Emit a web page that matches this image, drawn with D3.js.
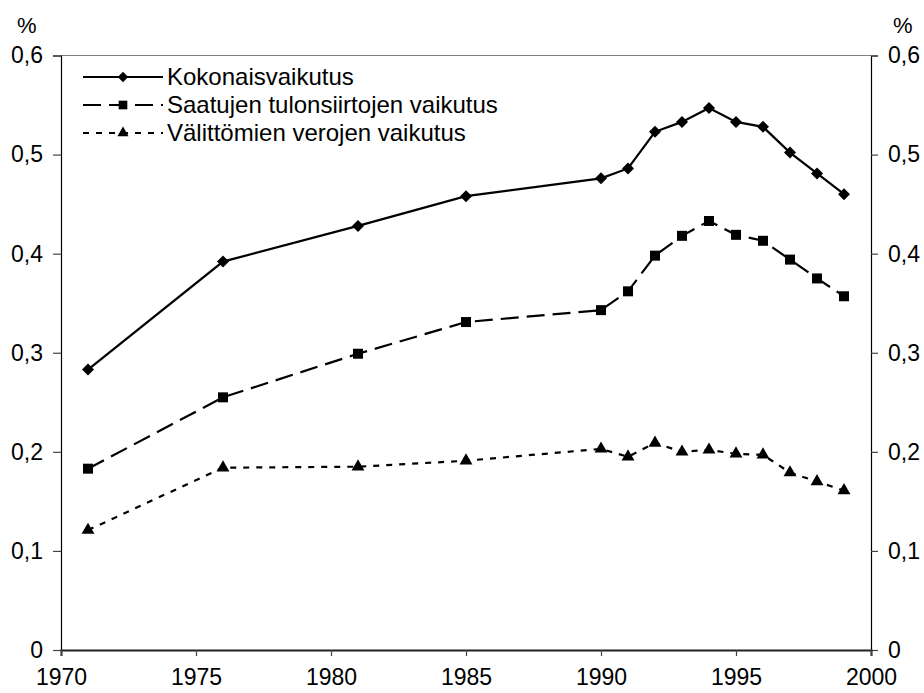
<!DOCTYPE html>
<html>
<head>
    <meta charset="utf-8" />
    <title>Vaikutus</title>
    <style>
        html, body { margin: 0; padding: 0; background: #fff; }
        text { font-family: "Liberation Sans", Arial, sans-serif; fill: #000; }
    </style>
</head>
<body>
    <svg width="924" height="693"></svg>
    <script src="https://cdn.jsdelivr.net/npm/d3@7"></script>
    <script>
        // data
        var years = [1971, 1976, 1981, 1985, 1990, 1991, 1992, 1993, 1994, 1995, 1996, 1997, 1998, 1999];
        var kokonais = [0.283, 0.392, 0.428, 0.458, 0.476, 0.486, 0.523, 0.533, 0.547, 0.533, 0.528, 0.502, 0.481, 0.460];
        var tulonsiirrot = [0.183, 0.255, 0.299, 0.331, 0.343, 0.362, 0.398, 0.418, 0.433, 0.419, 0.413, 0.394, 0.375, 0.357];
        var verot = [0.121, 0.184, 0.185, 0.191, 0.203, 0.195, 0.209, 0.200, 0.202, 0.198, 0.197, 0.179, 0.170, 0.161];
        var seriesNames = ["Kokonaisvaikutus", "Saatujen tulonsiirtojen vaikutus", "Välittömien verojen vaikutus"];
        var xTicks = [1970, 1975, 1980, 1985, 1990, 1995, 2000];
        var yTicks = [0, 0.1, 0.2, 0.3, 0.4, 0.5, 0.6];

        var svg = d3.select("svg"),
            mLeft = 61, mRight = 871, mTop = 55.5, mBottom = 650;

        var x = d3.scaleLinear().domain([1970, 2000]).range([mLeft, mRight]);
        var y = d3.scaleLinear().domain([0, 0.6]).range([mBottom, mTop]);
        var fmt = function (d) { return d === 0 ? "0" : d3.format(".1f")(d).replace(".", ","); };

        // plot area top border
        svg.append("line")
            .attr("x1", mLeft).attr("x2", mRight).attr("y1", mTop).attr("y2", mTop)
            .attr("stroke", "#808080").attr("stroke-width", 1.2);

        var yl = svg.append("g").attr("transform", "translate(" + mLeft + ",0)")
            .call(d3.axisLeft(y).tickValues(yTicks).tickFormat(fmt).tickSize(8).tickPadding(10));
        var yr = svg.append("g").attr("transform", "translate(" + mRight + ",0)")
            .call(d3.axisRight(y).tickValues(yTicks).tickFormat(fmt).tickSize(7).tickPadding(10));
        var xa = svg.append("g").attr("transform", "translate(0," + mBottom + ")")
            .call(d3.axisBottom(x).tickValues(xTicks).tickFormat(d3.format("d")).tickSize(6).tickPadding(13));

        [yl, yr, xa].forEach(function (g) {
            g.select(".domain").attr("stroke", "#000").attr("stroke-width", 1.2);
            g.selectAll(".tick line").attr("stroke", "#444").attr("stroke-width", 1.2);
            g.selectAll("text").style("font-size", "23px").attr("fill", "#000")
                .style("font-family", "'Liberation Sans', Arial, sans-serif");
        });
        xa.select(".domain").attr("stroke", "#222").attr("stroke-width", 2);

        svg.append("text").attr("x", 17).attr("y", 33).style("font-size", "22px").text("%");
        svg.append("text").attr("x", 893).attr("y", 33).style("font-size", "22px").text("%");

        var data = [kokonais, tulonsiirrot, verot];
        var dashes = [null, "18,8", "6,7"];
        var symbols = [d3.symbolSquare, d3.symbolSquare, d3.symbolTriangle];
        var rotate = [45, 0, 0];
        var sizes = [72, 100, 72];

        var line = d3.line()
            .x(function (d, i) { return x(years[i]); })
            .y(function (d) { return y(d); });

        data.forEach(function (vals, s) {
            svg.append("path")
                .datum(vals)
                .attr("d", line)
                .attr("fill", "none")
                .attr("stroke", "#000")
                .attr("stroke-width", 2.2)
                .attr("stroke-dasharray", dashes[s]);

            svg.append("g").selectAll("path")
                .data(vals)
                .enter().append("path")
                .attr("transform", function (d, i) {
                    return "translate(" + x(years[i]) + "," + y(d) + ") rotate(" + rotate[s] + ")";
                })
                .attr("d", d3.symbol().type(symbols[s]).size(sizes[s]))
                .attr("fill", "#000");
        });

        // legend
        var legend = svg.append("g").attr("transform", "translate(83,77)");
        seriesNames.forEach(function (name, s) {
            var row = legend.append("g").attr("transform", "translate(0," + s * 28 + ")");
            row.append("line")
                .attr("x1", 0).attr("x2", 80).attr("y1", 0).attr("y2", 0)
                .attr("stroke", "#000").attr("stroke-width", 2.2)
                .attr("stroke-dasharray", dashes[s]);
            row.append("path")
                .attr("transform", "translate(40,0) rotate(" + rotate[s] + ")")
                .attr("d", d3.symbol().type(symbols[s]).size(sizes[s] * 0.75))
                .attr("fill", "#000");
            row.append("text")
                .attr("x", 84).attr("y", 0).attr("dy", "0.35em")
                .style("font-size", "24px")
                .text(name);
        });
    </script>
</body>
</html>
